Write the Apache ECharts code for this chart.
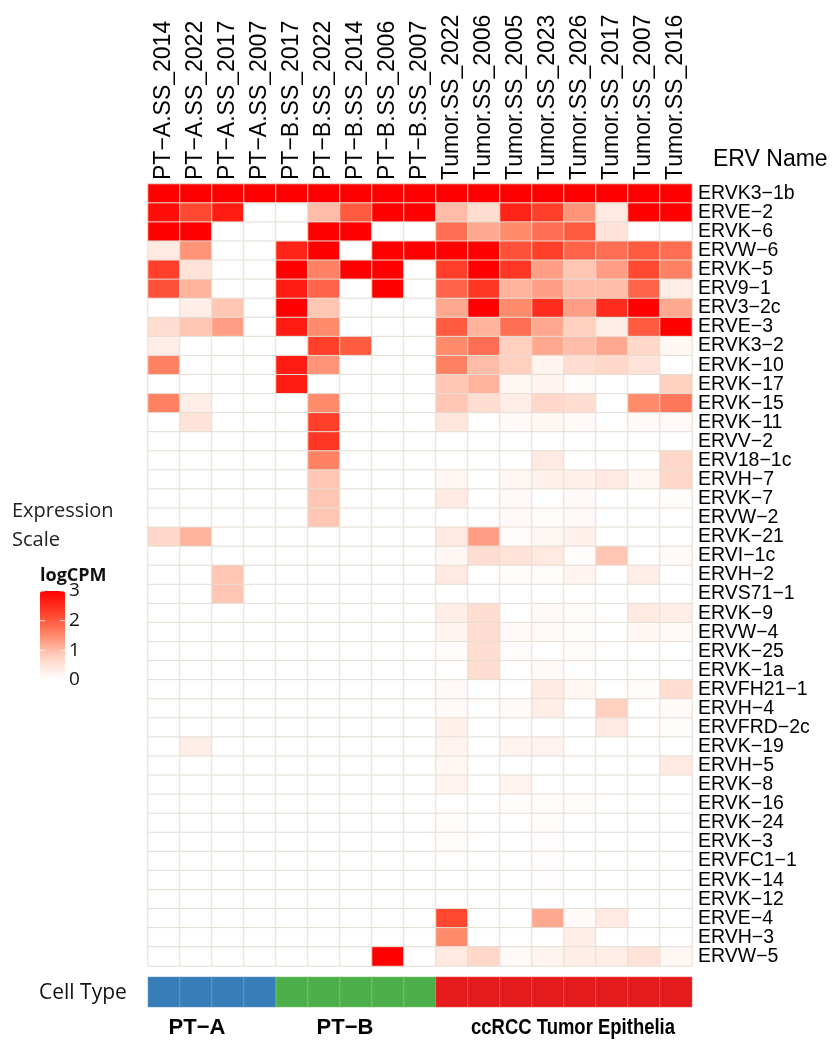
<!DOCTYPE html>
<html>
<head>
<meta charset="utf-8">
<title>ERV expression heatmap</title>
<script src="https://cdn.jsdelivr.net/npm/echarts@6/dist/echarts.min.js"></script>
<style>
  html, body { margin: 0; padding: 0; background: #fff; }
  #main { width: 837px; height: 1041px; }
</style>
</head>
<body>
<div id="main"></div>
<script>
// samples (columns)
const samples = [
  'PT−A.SS_2014', 'PT−A.SS_2022', 'PT−A.SS_2017', 'PT−A.SS_2007',
  'PT−B.SS_2017', 'PT−B.SS_2022', 'PT−B.SS_2014', 'PT−B.SS_2006', 'PT−B.SS_2007',
  'Tumor.SS_2022', 'Tumor.SS_2006', 'Tumor.SS_2005', 'Tumor.SS_2023',
  'Tumor.SS_2026', 'Tumor.SS_2017', 'Tumor.SS_2007', 'Tumor.SS_2016'
];

// cell type of every sample
const cellTypes = ['PT−A', 'PT−B', 'ccRCC Tumor Epithelia'];
const sampleCellType = [0, 0, 0, 0, 1, 1, 1, 1, 1, 2, 2, 2, 2, 2, 2, 2, 2];

// ERV names (rows, top to bottom)
const ervNames = [
  'ERVK3−1b', 'ERVE−2', 'ERVK−6', 'ERVW−6', 'ERVK−5', 'ERV9−1', 'ERV3−2c',
  'ERVE−3', 'ERVK3−2', 'ERVK−10', 'ERVK−17', 'ERVK−15', 'ERVK−11', 'ERVV−2',
  'ERV18−1c', 'ERVH−7', 'ERVK−7', 'ERVW−2', 'ERVK−21', 'ERVI−1c', 'ERVH−2',
  'ERVS71−1', 'ERVK−9', 'ERVW−4', 'ERVK−25', 'ERVK−1a', 'ERVFH21−1', 'ERVH−4',
  'ERVFRD−2c', 'ERVK−19', 'ERVH−5', 'ERVK−8', 'ERVK−16', 'ERVK−24', 'ERVK−3',
  'ERVFC1−1', 'ERVK−14', 'ERVK−12', 'ERVE−4', 'ERVH−3', 'ERVW−5'
];

// logCPM, one row per ERV, one value per sample
const logCPM = [
  [3, 3, 3, 3, 3, 3, 3, 3, 3, 3, 3, 3, 3, 3, 3, 3, 3],
  [2.85, 2.2, 2.7, 0, 0, 1.0, 2.0, 3, 3, 1.0, 0.6, 2.6, 2.3, 1.4, 0.4, 3, 3],
  [3, 3, 0, 0, 0, 3, 3, 0, 0, 1.8, 1.2, 1.5, 1.8, 2.0, 0.5, 0, 0],
  [0.4, 1.4, 0, 0, 2.6, 3, 0, 3, 3, 3, 3, 2.1, 2.3, 1.9, 1.8, 2.0, 1.8],
  [2.3, 0.5, 0, 0, 3, 1.6, 3, 3, 0, 2.3, 3, 2.4, 1.3, 0.9, 1.3, 2.2, 1.6],
  [2.1, 1.1, 0, 0, 2.7, 1.9, 0, 3, 0, 1.9, 2.4, 1.1, 1.3, 1.0, 1.0, 1.9, 0.3],
  [0, 0.3, 0.9, 0, 3, 0.9, 0, 0, 0, 1.2, 3, 1.5, 2.5, 1.3, 2.5, 3, 1.2],
  [0.6, 0.9, 1.3, 0, 2.7, 1.5, 0, 0, 0, 2.0, 1.1, 1.8, 1.2, 0.8, 0.3, 2.0, 3],
  [0.3, 0, 0, 0, 0, 2.3, 2.0, 0, 0, 1.5, 1.8, 0.8, 1.2, 1.0, 1.2, 0.7, 0.15],
  [1.6, 0, 0, 0, 2.7, 1.4, 0, 0, 0, 1.6, 1.0, 0.8, 0.2, 0.6, 0.7, 0.5, 0],
  [0, 0, 0, 0, 2.7, 0, 0, 0, 0, 0.9, 1.1, 0.15, 0.2, 0.05, 0, 0, 0.8],
  [1.6, 0.3, 0, 0, 0, 1.5, 0, 0, 0, 0.9, 0.6, 0.3, 0.7, 0.6, 0, 1.5, 1.7],
  [0, 0.5, 0, 0, 0, 2.3, 0, 0, 0, 0.45, 0, 0.1, 0.15, 0.1, 0, 0.1, 0.1],
  [0, 0, 0, 0, 0, 2.4, 0, 0, 0, 0, 0, 0, 0, 0, 0, 0, 0],
  [0, 0, 0, 0, 0, 1.6, 0, 0, 0, 0, 0, 0, 0.4, 0, 0, 0, 0.7],
  [0, 0, 0, 0, 0, 0.9, 0, 0, 0, 0.15, 0, 0.15, 0.25, 0.25, 0.4, 0.15, 0.7],
  [0, 0, 0, 0, 0, 0.9, 0, 0, 0, 0.35, 0, 0.1, 0, 0.1, 0, 0, 0.05],
  [0, 0, 0, 0, 0, 0.9, 0, 0, 0, 0, 0, 0.1, 0.05, 0.1, 0, 0, 0],
  [0.7, 1.1, 0, 0, 0, 0, 0, 0, 0, 0.4, 1.3, 0.05, 0.15, 0.25, 0, 0, 0],
  [0, 0, 0, 0, 0, 0, 0, 0, 0, 0.15, 0.6, 0.5, 0.4, 0.05, 0.9, 0, 0.1],
  [0, 0, 0.9, 0, 0, 0, 0, 0, 0, 0.4, 0, 0.05, 0.05, 0.2, 0, 0.3, 0],
  [0, 0, 0.9, 0, 0, 0, 0, 0, 0, 0, 0, 0, 0, 0, 0, 0, 0],
  [0, 0, 0, 0, 0, 0, 0, 0, 0, 0.3, 0.6, 0, 0.1, 0.05, 0, 0.4, 0.3],
  [0, 0, 0, 0, 0, 0, 0, 0, 0, 0.2, 0.6, 0.1, 0.1, 0.05, 0, 0.15, 0.1],
  [0, 0, 0, 0, 0, 0, 0, 0, 0, 0.05, 0.6, 0.05, 0, 0.05, 0, 0, 0],
  [0, 0, 0, 0, 0, 0, 0, 0, 0, 0, 0.6, 0, 0.1, 0, 0, 0, 0],
  [0, 0, 0, 0, 0, 0, 0, 0, 0, 0.1, 0, 0, 0.35, 0.15, 0, 0.05, 0.6],
  [0, 0, 0, 0, 0, 0, 0, 0, 0, 0.1, 0, 0.1, 0.3, 0, 0.8, 0, 0.1],
  [0, 0, 0, 0, 0, 0, 0, 0, 0, 0.25, 0, 0, 0, 0, 0.4, 0, 0.05],
  [0, 0.3, 0, 0, 0, 0, 0, 0, 0, 0.2, 0, 0.2, 0.2, 0, 0, 0, 0],
  [0, 0, 0, 0, 0, 0, 0, 0, 0, 0.15, 0, 0, 0, 0, 0, 0, 0.4],
  [0, 0, 0, 0, 0, 0, 0, 0, 0, 0.2, 0, 0.2, 0, 0, 0, 0, 0],
  [0, 0, 0, 0, 0, 0, 0, 0, 0, 0, 0, 0.05, 0.05, 0.05, 0, 0, 0],
  [0, 0, 0, 0, 0, 0, 0, 0, 0, 0.05, 0, 0, 0.05, 0, 0, 0, 0],
  [0, 0, 0, 0, 0, 0, 0, 0, 0, 0.05, 0, 0, 0.03, 0, 0, 0, 0],
  [0, 0, 0, 0, 0, 0, 0, 0, 0, 0, 0, 0, 0.03, 0, 0, 0, 0],
  [0, 0, 0, 0, 0, 0, 0, 0, 0, 0, 0, 0, 0.03, 0, 0, 0, 0],
  [0, 0, 0, 0, 0, 0, 0, 0, 0, 0, 0, 0, 0, 0, 0, 0, 0],
  [0, 0, 0, 0, 0, 0, 0, 0, 0, 2.2, 0, 0, 1.2, 0.1, 0.4, 0, 0],
  [0, 0, 0, 0, 0, 0, 0, 0, 0, 1.5, 0, 0, 0, 0.3, 0, 0, 0],
  [0, 0, 0, 0, 0, 0, 0, 3, 0, 0.4, 0.7, 0.1, 0.2, 0.3, 0.3, 0.5, 0.15]
];

// legend ticks
const scaleTicks = [0, 1, 2, 3];

const cellTypeColors = ['#377EB8', '#4DAF4A', '#E41A1C'];
const labelFont = '"Liberation Sans", Arial, sans-serif';
const legendFont = '"Open Sans", "Noto Sans", sans-serif';

const heatData = [];
logCPM.forEach((row, r) => {
  row.forEach((v, c) => heatData.push([c, r, v]));
});

const annotData = sampleCellType.map((t, c) => ({
  value: [c, 0, t],
  itemStyle: { color: cellTypeColors[t] }
}));

// legend bar geometry
const barTop = 591, barHeight = 89, barLeft = 40, barWidth = 25;
const tickY = v => barTop + barHeight * (1 - v / 3);

const graphics = [
  { type: 'text', left: 713, top: 148,
    style: { text: 'ERV Name', font: '23px ' + labelFont, fill: '#000' } },
  { type: 'text', x: 12, y: 511,
    style: { text: 'Expression', font: '20px ' + legendFont, fill: '#222', verticalAlign: 'middle' } },
  { type: 'text', x: 12, y: 540,
    style: { text: 'Scale', font: '20px ' + legendFont, fill: '#222', verticalAlign: 'middle' } },
  { type: 'text', x: 40, y: 576,
    style: { text: 'logCPM', font: 'bold 18px ' + legendFont, fill: '#111', verticalAlign: 'middle' } },
  { type: 'text', x: 39, y: 993,
    style: { text: 'Cell Type', font: '21px ' + legendFont, fill: '#111', verticalAlign: 'middle' } }
];

scaleTicks.forEach(v => {
  graphics.push({
    type: 'text', x: 69, y: tickY(v),
    style: { text: String(v), font: '19px ' + legendFont, fill: '#111', verticalAlign: 'middle' }
  });
  if (v > 0) {
    graphics.push({ type: 'line', z: 100,
      shape: { x1: barLeft, y1: tickY(v), x2: barLeft + 5, y2: tickY(v) },
      style: { stroke: 'rgba(255,255,255,0.8)', lineWidth: 1 } });
    graphics.push({ type: 'line', z: 100,
      shape: { x1: barLeft + barWidth - 5, y1: tickY(v), x2: barLeft + barWidth, y2: tickY(v) },
      style: { stroke: 'rgba(255,255,255,0.8)', lineWidth: 1 } });
  }
});

const groupLabelX = [197, 345, 573];
cellTypes.forEach((name, i) => {
  graphics.push({
    type: 'text', x: groupLabelX[i], y: 1028, scaleX: i === 2 ? 0.84 : 1,
    style: { text: name, font: 'bold 22px ' + labelFont, fill: '#000',
      align: 'center', verticalAlign: 'middle' }
  });
});

const myChart = echarts.init(document.getElementById('main'), null, { renderer: 'canvas' });

const option = {
  backgroundColor: '#fff',
  animation: false,
  grid: [
    { left: 148, top: 184, width: 544, height: 782 },
    { left: 148, top: 977, width: 544, height: 30 }
  ],
  xAxis: [
    {
      type: 'category', gridIndex: 0, position: 'top', data: samples,
      axisLine: { show: false }, axisTick: { show: false }, splitLine: { show: false },
      axisLabel: { rotate: -90, margin: 4, interval: 0, fontSize: 23, fontFamily: labelFont, color: '#000' }
    },
    {
      type: 'category', gridIndex: 1, data: samples, show: false
    }
  ],
  yAxis: [
    {
      type: 'category', gridIndex: 0, position: 'right', inverse: true, data: ervNames,
      axisLine: { show: false }, axisTick: { show: false }, splitLine: { show: false },
      axisLabel: { margin: 6, interval: 0, fontSize: 19.5, fontFamily: labelFont, color: '#000' }
    },
    {
      type: 'category', gridIndex: 1, data: ['Cell Type'], show: false
    }
  ],
  visualMap: {
    type: 'continuous',
    seriesIndex: 0,
    min: 0,
    max: 3,
    calculable: false,
    left: barLeft,
    top: barTop,
    itemWidth: barWidth,
    itemHeight: barHeight,
    padding: 0,
    text: null,
    hoverLink: false,
    inRange: { color: ['#FFFFFF', '#FFD5C6', '#FF8A6C', '#FF432C', '#FF0000'] }
  },
  series: [
    {
      type: 'heatmap',
      xAxisIndex: 0, yAxisIndex: 0,
      data: heatData,
      silent: true,
      itemStyle: { borderColor: '#E4DED3', borderWidth: 1 }
    },
    {
      type: 'heatmap',
      xAxisIndex: 1, yAxisIndex: 1,
      data: annotData,
      silent: true,
      itemStyle: { borderColor: 'rgba(255,255,255,0.22)', borderWidth: 1 }
    }
  ],
  graphic: graphics
};

myChart.setOption(option);
</script>
</body>
</html>
